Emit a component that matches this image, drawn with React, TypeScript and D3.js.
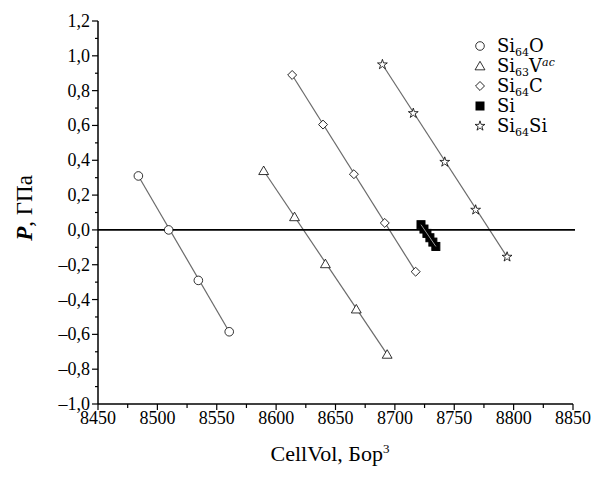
import React from "react";
import * as d3 from "d3";

const xTicks = [8450, 8500, 8550, 8600, 8650, 8700, 8750, 8800, 8850];
const yTicks = [-1.0, -0.8, -0.6, -0.4, -0.2, 0.0, 0.2, 0.4, 0.6, 0.8, 1.0, 1.2];

const si64OVol = [8484, 8509.5, 8534.5, 8560.5];
const si64OP = [0.31, 0.0, -0.29, -0.585];

const si63VacVol = [8589.5, 8615.5, 8641.5, 8667.5, 8693.5];
const si63VacP = [0.34, 0.075, -0.195, -0.455, -0.715];

const si64CVol = [8613.5, 8639.5, 8665.5, 8691.5, 8717.5];
const si64CP = [0.89, 0.605, 0.32, 0.04, -0.24];

const siVol = [8722, 8724.5, 8727, 8729.5, 8732, 8734.5];
const siP = [0.03, 0.005, -0.02, -0.045, -0.07, -0.095];

const si64SiVol = [8689.5, 8715.5, 8742, 8768, 8794.5];
const si64SiP = [0.95, 0.67, 0.39, 0.115, -0.155];

type Series = { key: string; vol: number[]; p: number[]; marker: string };
const series: Series[] = [
  { key: "Si64O", vol: si64OVol, p: si64OP, marker: "circle" },
  { key: "Si63Vac", vol: si63VacVol, p: si63VacP, marker: "triangle" },
  { key: "Si64C", vol: si64CVol, p: si64CP, marker: "diamond" },
  { key: "Si", vol: siVol, p: siP, marker: "square" },
  { key: "Si64Si", vol: si64SiVol, p: si64SiP, marker: "star" },
];

const W = 596;
const H = 481;
const L = 98;
const R = 573;
const T = 21;
const B = 404;

const x = d3.scaleLinear().domain([8450, 8850]).range([L, R]);
const y = d3.scaleLinear().domain([-1.0, 1.2]).range([B, T]);

function Marker({ type, cx, cy }: { type: string; cx: number; cy: number }) {
  const common = { fill: "white", stroke: "#000", strokeWidth: 0.8 };
  if (type === "circle") return <circle cx={cx} cy={cy} r={4.3} {...common} />;
  if (type === "square")
    return <rect x={cx - 4} y={cy - 4} width={8} height={8} fill="#000" stroke="#000" />;
  let sym;
  let rot = 0;
  let size = 60;
  if (type === "triangle") { sym = d3.symbolTriangle; size = 42; }
  else if (type === "diamond") { sym = d3.symbolSquare; rot = 45; size = 40; }
  else { sym = d3.symbolStar; size = 30; }
  const d = d3.symbol(sym, size)() as string;
  const dy = type === "triangle" ? 1 : 0;
  return <path d={d} transform={`translate(${cx},${cy + dy}) rotate(${rot})`} {...common} />;
}

export default function App() {
  const serif = "'Liberation Serif', 'Times New Roman', serif";
  const legendFont = "'DejaVu Serif', serif";
  const minorY = d3.range(-1.0, 1.2001, 0.1);
  const minorX = d3.range(8450, 8851, 25);
  const legendRows = [46, 66, 86, 106, 126];
  return (
    <svg width={W} height={H} style={{ display: "block", position: "absolute", left: 0, top: 0, background: "white" }}>
      <rect x={0} y={0} width={W} height={H} fill="white" />
      {/* fit lines */}
      {series.map((s) => {
        const n = s.vol.length - 1;
        const reg = d3.line<number>().x((d) => x(s.vol[d])).y((d) => y(s.p[d]));
        return (
          <path key={s.key + "l"} d={reg([0, n]) as string} stroke="#6a6a6a" strokeWidth={1.2} fill="none" />
        );
      })}
      {/* zero line */}
      <line x1={L} x2={R + 2} y1={y(0)} y2={y(0)} stroke="#000" strokeWidth={1.8} />
      {/* markers */}
      {series.map((s) => (
        <g key={s.key}>
          {s.vol.map((v, i) => (
            <Marker key={i} type={s.marker} cx={x(v)} cy={y(s.p[i])} />
          ))}
        </g>
      ))}
      {/* Si line over squares */}
      <line x1={x(siVol[0])} y1={y(siP[0])} x2={x(siVol[siVol.length - 1])} y2={y(siP[siP.length - 1])} stroke="#999" strokeWidth={1} />
      {/* axes */}
      <line x1={L} x2={L} y1={T} y2={B} stroke="#000" strokeWidth={1.5} />
      <line x1={L} x2={R} y1={B} y2={B} stroke="#000" strokeWidth={1.5} />
      {minorY.map((v, i) => (
        <line key={"my" + i} x1={L - (i % 2 === 0 ? 6 : 3)} x2={L} y1={y(v)} y2={y(v)} stroke="#000" strokeWidth={1.2} />
      ))}
      {minorX.map((v, i) => (
        <line key={"mx" + i} x1={x(v)} x2={x(v)} y1={B} y2={B + (i % 2 === 0 ? 6 : 4)} stroke="#000" strokeWidth={1.2} />
      ))}
      {yTicks.map((v) => (
        <text key={"yt" + v} x={L - 8} y={y(v) + 6} textAnchor="end" fontFamily={serif} fontSize={18}>
          {(v < 0 ? "\u2013" : "") + Math.abs(v).toFixed(1).replace(".", ",")}
        </text>
      ))}
      {xTicks.map((v) => (
        <text key={"xt" + v} x={x(v)} y={B + 20} textAnchor="middle" fontFamily={serif} fontSize={18}>
          {v}
        </text>
      ))}
      {/* axis titles */}
      <text transform={`translate(32, ${y(0) - 22}) rotate(-90)`} textAnchor="middle" fontFamily={serif} fontSize={23}>
        <tspan fontStyle="italic" fontWeight="bold">P</tspan>
        <tspan>, ГПа</tspan>
      </text>
      <text x={330} y={461} textAnchor="middle" fontFamily={serif} fontSize={22}>
        CellVol, Бор<tspan fontSize={13} dy={-8}>3</tspan>
      </text>
      {/* legend */}
      {series.map((s, i) => (
        <Marker key={"lg" + s.key} type={s.marker} cx={480} cy={legendRows[i]} />
      ))}
      <g fontFamily={legendFont} fontSize={18}>
        <text x={497} y={legendRows[0] + 6}>
          Si<tspan fontSize={11} dy={4}>64</tspan><tspan dy={-4}>O</tspan>
        </text>
        <text x={497} y={legendRows[1] + 6}>
          Si<tspan fontSize={11} dy={4}>63</tspan><tspan dy={-4}>V</tspan>
          <tspan fontSize={11} fontStyle="italic" dy={-6}>ac</tspan>
        </text>
        <text x={497} y={legendRows[2] + 6}>
          Si<tspan fontSize={11} dy={4}>64</tspan><tspan dy={-4}>C</tspan>
        </text>
        <text x={497} y={legendRows[3] + 6}>Si</text>
        <text x={497} y={legendRows[4] + 6}>
          Si<tspan fontSize={11} dy={4}>64</tspan><tspan dy={-4}>Si</tspan>
        </text>
      </g>
    </svg>
  );
}
